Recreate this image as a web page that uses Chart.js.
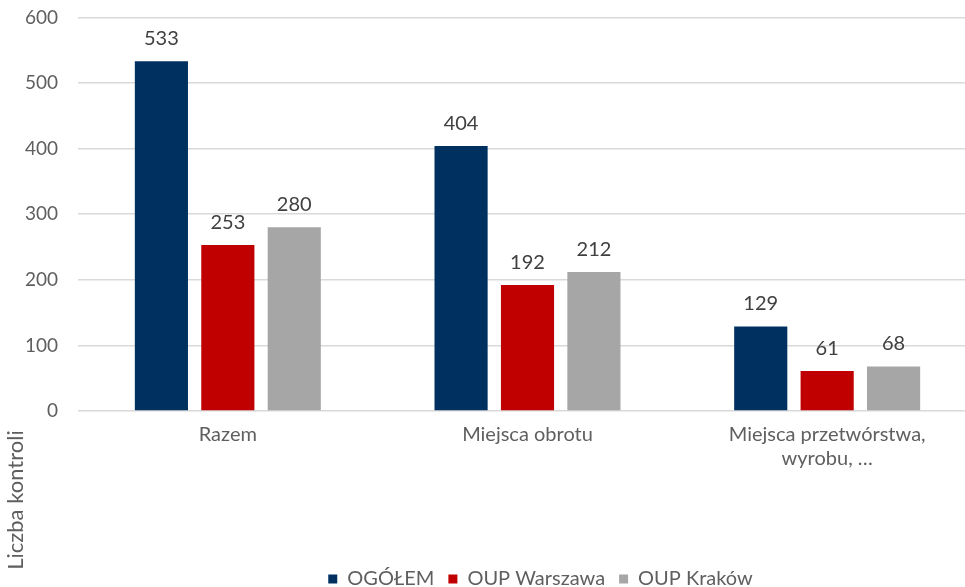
<!DOCTYPE html>
<html>
<head>
<meta charset="utf-8">
<script src="https://cdn.jsdelivr.net/npm/chart.js@4/dist/chart.umd.min.js"></script>
<style>
  html, body { margin: 0; padding: 0; background: #ffffff; overflow: hidden; }
  #wrap { width: 990px; height: 618px; margin-top: -14px; }
</style>
</head>
<body>
<div id="wrap"><canvas id="kontroleChart" width="990" height="618"></canvas></div>
<script>
// Data
const categories = ['Razem', 'Miejsca obrotu', ['Miejsca przetwórstwa,', 'wyrobu, …']];
const seriesNames = ['OGÓŁEM', 'OUP Warszawa', 'OUP Kraków'];
const ogolem = [533, 404, 129];
const warszawa = [253, 192, 61];
const krakow = [280, 212, 68];
const seriesColors = ['#003060', '#c00000', '#a6a6a6'];
const yTitle = 'Liczba kontroli';

const textGray = '#5f5f5f';
const fontFamily = 'Lato';

// value labels above the bars
const valueLabels = {
    id: 'valueLabels',
    afterDatasetsDraw(chart) {
        const ctx = chart.ctx;
        ctx.save();
        ctx.font = '20px ' + fontFamily;
        ctx.fillStyle = '#404040';
        ctx.textAlign = 'center';
        ctx.textBaseline = 'alphabetic';
        chart.data.datasets.forEach((ds, i) => {
            chart.getDatasetMeta(i).data.forEach((bar, j) => {
                ctx.fillText(ds.data[j], bar.x, bar.y - 16);
            });
        });
        ctx.restore();
    }
};

// axis title sits low on the left, like in the original
const axisTitle = {
    id: 'axisTitle',
    afterDraw(chart) {
        const ctx = chart.ctx;
        ctx.save();
        ctx.translate(16, 514);
        ctx.rotate(-Math.PI / 2);
        ctx.font = '22px ' + fontFamily;
        ctx.fillStyle = textGray;
        ctx.textAlign = 'center';
        ctx.textBaseline = 'middle';
        ctx.fillText(yTitle, 0, 0);
        ctx.restore();
    }
};

// push the legend a bit to the right
const legendShift = {
    id: 'legendShift',
    afterLayout(chart) {
        chart.legend.left += 52;
        chart.legend.right += 52;
    }
};

const ctx = document.getElementById('kontroleChart').getContext('2d');
// the original text is a little wider than Lato, so space it out
ctx.letterSpacing = '0.8px';

new Chart(ctx, {
    type: 'bar',
    data: {
        labels: categories,
        datasets: [
            { label: seriesNames[0], data: ogolem, backgroundColor: seriesColors[0] },
            { label: seriesNames[1], data: warszawa, backgroundColor: seriesColors[1] },
            { label: seriesNames[2], data: krakow, backgroundColor: seriesColors[2] }
        ]
    },
    options: {
        responsive: false,
        animation: false,
        categoryPercentage: 0.665,
        barPercentage: 0.8,
        layout: {
            padding: { top: 0, right: 13, bottom: 5, left: 0 }
        },
        scales: {
            y: {
                min: 0,
                max: 600,
                ticks: {
                    stepSize: 100,
                    padding: 20,
                    color: textGray,
                    font: { family: fontFamily, size: 19 }
                },
                grid: { color: '#d9d9d9', lineWidth: 1.5, drawTicks: false },
                border: { display: false },
                afterFit(scale) { scale.width = 78; }
            },
            x: {
                ticks: {
                    padding: 12,
                    color: textGray,
                    font: { family: fontFamily, size: 20 },
                    maxRotation: 0
                },
                grid: { display: false, drawTicks: false },
                border: { display: false },
                afterFit(scale) { scale.height = 144; }
            }
        },
        plugins: {
            legend: {
                position: 'bottom',
                labels: {
                    boxWidth: 9,
                    boxHeight: 9,
                    padding: 14,
                    color: textGray,
                    font: { family: fontFamily, size: 20 }
                }
            },
            tooltip: { enabled: false }
        }
    },
    plugins: [valueLabels, axisTitle, legendShift]
});
</script>
</body>
</html>
